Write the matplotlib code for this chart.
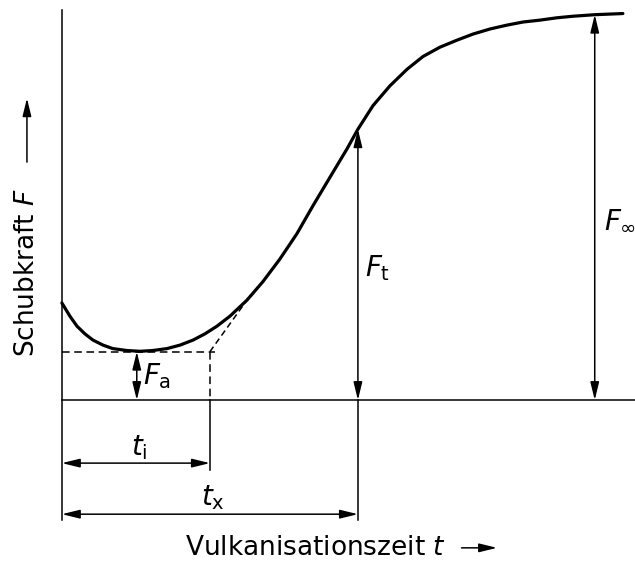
import numpy as np
import matplotlib.pyplot as plt

plt.rcParams['mathtext.fontset'] = 'dejavusans'
plt.rcParams['font.family'] = 'DejaVu Sans'

t = [0.0, 0.27, 0.51, 0.78, 1.05, 1.39, 1.72, 2.20, 2.64, 3.07, 3.55, 3.99,
     4.43, 4.83, 5.24, 5.68, 6.25, 6.79, 7.36, 7.94, 8.48, 9.05, 9.63, 10.0,
     10.51, 11.08, 11.66, 12.20, 12.77, 13.34, 13.89, 14.46, 15.03, 15.57,
     16.15, 16.72, 17.26, 18.0, 18.95]
F = [25.1, 21.7, 19.1, 17.1, 15.5, 14.2, 13.3, 12.8, 12.6, 12.8, 13.3, 14.2,
     15.5, 17.1, 19.1, 21.7, 25.8, 30.6, 36.4, 43.0, 50.2, 57.5, 64.9, 70.0,
     76.1, 81.2, 85.5, 88.8, 91.2, 93.0, 94.6, 95.9, 96.9, 97.7,
     98.2, 98.8, 99.2, 99.6, 99.9]

# Kennwerte
t_i = 5.0
t_x = 10.0
t_inf = 18.0
F_a = 12.5
F_t = 70.0
F_inf = 99.6
t_Fa = 2.53          # Lage des F_a-Pfeils
tangent_end = (6.25, 25.8)

fig = plt.figure(figsize=(6.35, 5.61), dpi=100)
ax = fig.add_axes([0, 0, 1, 1])
ax.set_xlim(-2.09, 19.36)
ax.set_ylim(-41.6, 103.4)
ax.axis('off')

lw = 1.1
arrow2 = dict(arrowstyle='<|-|>,head_length=0.9,head_width=0.22',
              mutation_scale=12, lw=lw, color='black', shrinkA=0, shrinkB=0)

# Achsen
ax.plot([0, 0], [-31, 100.8], color='black', lw=lw)
ax.plot([0, 19.36], [0, 0], color='black', lw=lw)

# Kurve
ax.plot(t, F, color='black', lw=2.3, solid_capstyle='round', solid_joinstyle='round')

# Hilfslinien
ax.plot([0, t_i + 0.17], [F_a, F_a], color='black', lw=lw, ls=(0, (5, 3)))
ax.plot([t_i, t_i], [F_a, 0], color='black', lw=lw, ls=(0, (5, 3)))
ax.plot([t_i, tangent_end[0]], [F_a, tangent_end[1]], color='black', lw=lw,
        ls=(0, (4, 2.5)))
ax.plot([t_i, t_i], [0, -18.1], color='black', lw=lw)
ax.plot([t_x, t_x], [-31, 0], color='black', lw=lw)

# Bemaßungspfeile
ax.annotate('', xy=(t_Fa, F_a), xytext=(t_Fa, 0), arrowprops=arrow2)
ax.annotate('', xy=(t_x, F_t), xytext=(t_x, 0), arrowprops=arrow2)
ax.annotate('', xy=(t_inf, F_inf), xytext=(t_inf, 0), arrowprops=arrow2)
ax.annotate('', xy=(0, -16.3), xytext=(t_i, -16.3), arrowprops=arrow2)
ax.annotate('', xy=(0, -29.5), xytext=(t_x, -29.5), arrowprops=arrow2)

fs = 20
ax.text(t_Fa + 0.2, F_a / 2, r'$F_\mathrm{a}$', fontsize=fs, ha='left', va='center')
ax.text(t_x + 0.25, 34.1, r'$F_\mathrm{t}$', fontsize=fs, ha='left', va='center')
ax.text(t_inf + 0.3, 46.5, r'$F_\infty$', fontsize=fs, ha='left', va='center')
ax.text(t_i / 2 + 0.1, -16.3 + 0.4, r'$t_\mathrm{i}$', fontsize=fs, ha='center', va='bottom')
ax.text(t_x / 2 + 0.1, -29.5 + 0.6, r'$t_\mathrm{x}$', fontsize=fs, ha='center', va='bottom')

# Achsenbeschriftungen mit Pfeil
arrow1 = dict(arrowstyle='-|>,head_length=0.9,head_width=0.22',
              mutation_scale=12, lw=lw, color='black', shrinkA=0, shrinkB=0)
ax.text(4.16, -38.2, r'Vulkanisationszeit $t$', fontsize=19, ha='left', va='center')
ax.annotate('', xy=(14.7, -38.2), xytext=(13.5, -38.2), arrowprops=arrow1)
ax.text(-1.18, 11.1, r'Schubkraft $F$', fontsize=19, rotation=90,
        ha='center', va='bottom')
ax.annotate('', xy=(-1.18, 78.0), xytext=(-1.18, 61.5), arrowprops=arrow1)

fig.savefig('out.png', dpi=100)
